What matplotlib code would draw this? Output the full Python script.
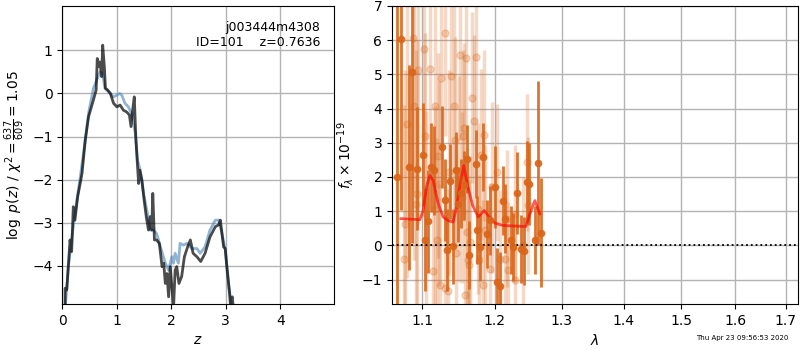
import matplotlib
matplotlib.use("Agg")
import matplotlib.pyplot as plt
from matplotlib.ticker import FixedLocator, NullLocator, FormatStrFormatter

# p(z) curves, left panel
z_fit = [0.05, 0.11, 0.17, 0.23, 0.32, 0.42, 0.48, 0.57, 0.63, 0.69,
         0.74, 0.78, 0.85, 0.94, 1.00, 1.05, 1.09, 1.15, 1.21, 1.27,
         1.34, 1.38, 1.43, 1.49, 1.55, 1.61, 1.67, 1.73, 1.80, 1.89,
         1.95, 2.01, 2.04, 2.07, 2.13, 2.16, 2.22, 2.29, 2.38, 2.47,
         2.53, 2.62, 2.71, 2.81, 2.87, 2.93, 2.99, 3.05, 3.11]
logp_fit = [-5.0, -4.02, -3.40, -2.78, -2.01, -1.08, -0.46, 0.12, 0.31, 0.50,
            0.46, 0.12, 0.04, -0.08, -0.04, 0.0, -0.04, -0.23, -0.31, -0.46,
            -0.93, -1.55, -1.78, -2.32, -2.71, -3.17, -3.17, -3.25, -3.56, -3.94,
            -4.10, -3.79, -3.94, -3.71, -3.94, -3.48, -3.52, -3.48, -3.60, -3.60,
            -3.71, -3.56, -3.17, -2.94, -2.94, -3.25, -3.63, -4.41, -5.0]

z_grid = [0.05, 0.05, 0.08, 0.14, 0.17, 0.20, 0.23, 0.28, 0.36, 0.42,
          0.48, 0.57, 0.62, 0.64, 0.67, 0.69, 0.72, 0.74, 0.77, 0.79,
          0.83, 0.88, 0.94, 1.00, 1.06, 1.12, 1.18, 1.23, 1.26, 1.29,
          1.32, 1.35, 1.38, 1.40, 1.42, 1.46, 1.50, 1.54, 1.58, 1.61,
          1.64, 1.66, 1.69, 1.73, 1.78, 1.83, 1.86, 1.89, 1.92, 1.95,
          1.98, 2.02, 2.04, 2.07, 2.10, 2.14, 2.19, 2.24, 2.30, 2.35,
          2.40, 2.47, 2.54, 2.62, 2.71, 2.81, 2.87, 2.90, 2.93, 2.96,
          2.99, 3.02, 3.07, 3.09, 3.12, 3.14]
logp_grid = [-5.0, -4.52, -4.56, -3.40, -3.67, -2.63, -2.94, -2.40, -1.86, -1.08,
             -0.54, -0.15, 0.08, 0.81, 0.62, 0.73, 0.39, 1.12, 0.62, 0.12,
             0.08, 0.0, -0.23, -0.31, -0.27, -0.39, -0.43, -0.50, -0.77, -0.39,
             -0.08, -1.08, -1.70, -2.09, -1.78, -2.01, -2.47, -2.86, -3.17, -2.86,
             -3.17, -2.32, -3.40, -3.40, -3.48, -4.02, -3.94, -4.41, -4.18, -4.72,
             -4.02, -4.64, -5.0, -4.10, -4.02, -4.41, -4.25, -3.79, -3.56, -3.40,
             -3.71, -3.79, -3.90, -3.71, -3.33, -3.09, -3.05, -2.94, -3.25, -3.56,
             -3.60, -4.02, -4.64, -5.0, -4.72, -5.0]

# spectrum, right panel
wave_1d = [1.0680, 1.0723, 1.0830, 1.0861, 1.0934, 1.1013, 1.1036, 1.1071, 1.1115, 1.1159,
           1.1267, 1.1303, 1.1334, 1.1375, 1.1416, 1.1453, 1.1485, 1.1518, 1.1559, 1.1609,
           1.1637, 1.1726, 1.1749, 1.1787, 1.1834, 1.1882, 1.1929, 1.1996, 1.2034, 1.2073,
           1.2112, 1.2145, 1.2228, 1.2266, 1.2316, 1.2375, 1.2424, 1.2465, 1.2504, 1.2589,
           1.2639, 1.2675]
flux_1d = [2.0, 6.03, 2.28, 5.07, 2.24, 2.65, 0.17, 0.70, 2.28, 2.20,
           2.87, 1.33, -0.15, 1.87, -0.03, 2.20, 1.20, 1.52, 1.75, 2.53,
           -0.29, 2.38, 0.44, -0.05, 2.59, 0.34, 0.73, 1.70, -1.07, -1.20,
           1.31, 0.78, 0.15, -0.05, 1.52, -0.10, -0.17, 1.84, 1.80, 0.15,
           2.41, 0.37]
err_1d = [6.0, 5.0, 3.0, 5.0, 1.8, 1.5, 1.5, 1.5, 1.3, 1.3,
          1.2, 1.2, 1.2, 1.1, 1.1, 1.1, 1.1, 1.0, 1.0, 1.0,
          1.0, 1.0, 1.0, 1.0, 1.0, 1.0, 1.0, 1.2, 1.0, 1.0,
          1.0, 1.0, 1.0, 1.0, 1.2, 1.0, 1.0, 1.2, 1.2, 1.0,
          2.4, 1.6]

wave_2d = [1.0765, 1.0778, 1.0800, 1.0874, 1.0891, 1.0921, 1.0930, 1.0940, 1.1018, 1.1040,
           1.1050, 1.1106, 1.1138, 1.1165, 1.1173, 1.1195, 1.1205, 1.1218, 1.1240, 1.1253,
           1.1299, 1.1307, 1.1344, 1.1353, 1.1389, 1.1430, 1.1443, 1.1450, 1.1490, 1.1504,
           1.1535, 1.1545, 1.1567, 1.1581, 1.1595, 1.1605, 1.1623, 1.1640, 1.1647, 1.1679,
           1.1707, 1.1730, 1.1763, 1.1770, 1.1801, 1.1840, 1.1830, 1.1858, 1.1929, 1.1953,
           1.2025, 1.2080, 1.2150, 1.2170, 1.2193, 1.2291, 1.2300, 1.2413, 1.2470, 1.2489]
flux_2d = [-0.39, 0.63, 3.55, 6.05, 4.08, 1.22, 1.50, 5.12, 5.73, 3.21,
           0.92, 5.15, -0.76, 4.07, 1.07, 0.15, 2.62, 1.80, -1.17, 4.89,
           6.20, -1.26, -1.34, 2.14, 4.95, 4.07, 3.08, -0.22, 1.94, 5.57,
           1.41, 3.20, 3.43, -1.44, 5.47, 0.39, -0.44, -0.58, 0.10, 4.32,
           3.64, 5.51, 1.07, -0.44, 2.65, 3.22, -1.17, 0.44, -0.68, 1.70,
           2.14, -0.39, -0.39, 0.78, -0.73, -1.02, 0.92, 0.00, 2.43, 1.17]
err_2d = [4.5, 4.5, 4.5, 4.5, 4.5, 4.5, 4.5, 4.5, 3.0, 3.0,
          3.0, 3.0, 3.0, 3.0, 3.0, 3.0, 3.0, 3.0, 3.0, 3.0,
          3.0, 3.0, 3.0, 3.0, 3.0, 3.0, 3.0, 3.0, 3.0, 2.5,
          2.5, 2.5, 2.5, 2.5, 2.5, 2.5, 2.5, 2.5, 2.5, 2.5,
          2.5, 2.5, 2.5, 2.5, 2.5, 2.5, 2.5, 2.5, 2.5, 2.5,
          2.0, 2.0, 2.0, 2.0, 2.0, 2.0, 2.0, 2.0, 2.0, 2.0]

wave_model = [1.0723, 1.0970, 1.1013, 1.1060, 1.1102, 1.1146, 1.1180, 1.1213, 1.1280, 1.1350,
              1.1416, 1.1463, 1.1520, 1.1563, 1.1609, 1.1684, 1.1763, 1.1848, 1.1919, 1.2001,
              1.2121, 1.2454, 1.2514, 1.2589, 1.2664]
flux_model = [0.78, 0.75, 1.02, 1.75, 2.04, 1.90, 1.55, 1.22, 0.83, 0.72,
              0.68, 1.12, 1.90, 2.33, 1.80, 1.17, 0.83, 1.02, 0.83, 0.65,
              0.58, 0.55, 0.92, 1.31, 0.92]

orange = '#d9661a'

fig = plt.figure(figsize=(8, 3.5), dpi=100)

# izquierda: p(z)
ax1 = fig.add_axes([0.078, 0.131, 0.339, 0.852])
ax1.plot(z_fit, logp_fit, color='steelblue', alpha=0.6, lw=2)
ax1.plot(z_grid, logp_grid, color='k', alpha=0.7, lw=2)
ax1.set_xlim(0, 4.98)
ax1.set_ylim(-4.89, 2.03)
ax1.set_xticks([0, 1, 2, 3, 4])
ax1.set_yticks([-4, -3, -2, -1, 0, 1])
ax1.grid(color='0.7', lw=1)
ax1.set_axisbelow(True)
ax1.set_xlabel('$z$')
ax1.set_ylabel(r'$\log\ p(z)$' + ' / ' + r'$\chi^2=\frac{637}{609}=1.05$')
ax1.text(0.95, 0.95, 'j003444m4308\nID=101    z=0.7636', transform=ax1.transAxes,
         ha='right', va='top', fontsize=9)

# derecha: espectro
ax2 = fig.add_axes([0.49, 0.131, 0.5075, 0.852])
ax2.errorbar(wave_2d, flux_2d, yerr=err_2d, color=orange, alpha=0.25,
             marker='o', ms=5, linestyle='none', elinewidth=2.5, capsize=0)
ax2.errorbar(wave_1d, flux_1d, yerr=err_1d, color=orange, alpha=0.9,
             marker='o', ms=4.5, linestyle='none', elinewidth=2, capsize=0)
ax2.plot(wave_model, flux_model, color='red', alpha=0.65, lw=2)
ax2.axhline(0, color='k', ls=':', lw=1.3)
ax2.set_xscale('log')
ax2.set_xlim(1.061, 1.725)
ax2.xaxis.set_major_locator(FixedLocator([1.1, 1.2, 1.3, 1.4, 1.5, 1.6, 1.7]))
ax2.xaxis.set_minor_locator(NullLocator())
ax2.xaxis.set_major_formatter(FormatStrFormatter('%.1f'))
ax2.set_ylim(-1.72, 7.0)
ax2.set_yticks([-1, 0, 1, 2, 3, 4, 5, 6, 7])
ax2.grid(color='0.7', lw=1)
ax2.set_axisbelow(True)
ax2.set_xlabel(r'$\lambda$')
ax2.set_ylabel(r'$f_\lambda\times10^{-19}$')

fig.text(0.985, 0.025, 'Thu Apr 23 09:56:53 2020', ha='right', va='bottom', fontsize=5)

plt.savefig('out.png', dpi=100)
